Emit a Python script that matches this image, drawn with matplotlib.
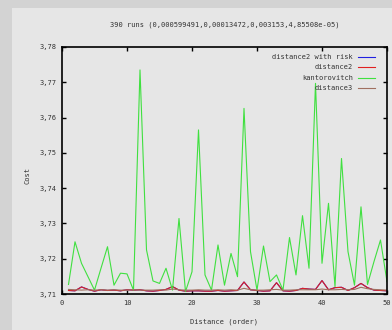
import matplotlib
matplotlib.use("Agg")
import matplotlib.pyplot as plt
from matplotlib.patches import Rectangle
from matplotlib.ticker import FuncFormatter

# ---- data ----
x = list(range(1, 51))
kantorovitch = [3.7127, 3.7248, 3.7187, 3.7149, 3.7111, 3.7173, 3.7234, 3.7125, 3.7159, 3.7157,
                3.7111, 3.7735, 3.7225, 3.7137, 3.7130, 3.7173, 3.7111, 3.7314, 3.7107, 3.7163,
                3.7565, 3.7154, 3.7111, 3.7239, 3.7125, 3.7215, 3.7149, 3.7626, 3.7220, 3.7111,
                3.7236, 3.7135, 3.7154, 3.7111, 3.7260, 3.7154, 3.7322, 3.7173, 3.7697, 3.7187,
                3.7357, 3.7121, 3.7484, 3.7220, 3.7125, 3.7347, 3.7127, 3.7192, 3.7253, 3.7135]
distance2 = [3.7110, 3.7109, 3.7120, 3.7113, 3.7108, 3.7112, 3.7110, 3.7111, 3.7109, 3.7112,
             3.7111, 3.7112, 3.7109, 3.7108, 3.7110, 3.7113, 3.7121, 3.7111, 3.7108, 3.7109,
             3.7109, 3.7108, 3.7108, 3.7110, 3.7108, 3.7109, 3.7110, 3.7134, 3.7112, 3.7110,
             3.7108, 3.7109, 3.7132, 3.7109, 3.7108, 3.7110, 3.7116, 3.7114, 3.7113, 3.7138,
             3.7112, 3.7118, 3.7119, 3.7110, 3.7118, 3.7130, 3.7118, 3.7111, 3.7110, 3.7109]
distance2_risk = list(distance2)
distance3 = [3.7113, 3.7112, 3.7111, 3.7112, 3.7111, 3.7112, 3.7111, 3.7112, 3.7111, 3.7111,
             3.7112, 3.7111, 3.7111, 3.7111, 3.7112, 3.7111, 3.7114, 3.7112, 3.7111, 3.7111,
             3.7112, 3.7111, 3.7111, 3.7112, 3.7111, 3.7112, 3.7111, 3.7116, 3.7112, 3.7111,
             3.7111, 3.7112, 3.7113, 3.7111, 3.7111, 3.7112, 3.7112, 3.7112, 3.7112, 3.7114,
             3.7112, 3.7112, 3.7113, 3.7112, 3.7113, 3.7119, 3.7115, 3.7113, 3.7112, 3.7111]
xticks = [0, 10, 20, 30, 40, 50]
yticks = [3.71, 3.72, 3.73, 3.74, 3.75, 3.76, 3.77, 3.78]
title = "390 runs (0,000599491,0,00013472,0,003153,4,85508e-05)"

W, H = 392, 330
fig = plt.figure(figsize=(W / 100, H / 100), dpi=100)
fig.patch.set_facecolor("#d3d3d3")
fig.patches.append(Rectangle((12 / W, 0), 1, 1 - 8 / H, transform=fig.transFigure,
                             facecolor="#e6e6e6", edgecolor="none", zorder=-10))

ax = fig.add_axes([62 / W, 1 - 294 / H, 325 / W, 247 / H])
ax.set_zorder(5)
ax.set_facecolor("#e6e6e6")

lw = 0.8
ax.plot(x, distance2_risk, color="#2020e0", lw=lw, label="distance2 with risk")
ax.plot(x, distance2, color="#e02020", lw=lw, label="distance2")
ax.plot(x, kantorovitch, color="#40e040", lw=lw, label="kantorovitch")
ax.plot(x, distance3, color="#a07060", lw=lw, label="distance3")

ax.set_xlim(0, 50)
ax.set_ylim(3.71, 3.78)
ax.set_xticks(xticks)
ax.set_yticks(yticks)
ax.yaxis.set_major_formatter(FuncFormatter(lambda v, p: f"{v:.2f}".replace(".", ",")))
ax.xaxis.set_major_formatter(FuncFormatter(lambda v, p: f"{int(round(v))}"))

mono = "DejaVu Sans Mono"
fs = 5
ax.tick_params(direction="in", top=True, right=True, length=3, width=1, color="black",
               labelsize=fs, labelcolor="#333333", pad=4)
for lab in ax.get_xticklabels() + ax.get_yticklabels():
    lab.set_family(mono)
for s in ax.spines.values():
    s.set_linewidth(1.2)
    s.set_color("black")

leg = ax.legend(loc="upper right", frameon=False, prop={"family": mono, "size": fs},
                markerfirst=False, handlelength=2.5, handletextpad=0.7,
                labelspacing=0.65, borderaxespad=0.6, bbox_to_anchor=(0.985, 1.0))
for t in leg.get_texts():
    t.set_color("#333333")

fig.text(224.5 / W, 1 - 25 / H, title, ha="center", va="center", family=mono,
         size=fs, color="#333333", zorder=6)
fig.text(28 / W, 1 - 175 / H, "Cost", ha="center", va="center", rotation=90,
         family=mono, size=fs, color="#333333", zorder=6)
fig.text(224.5 / W, 1 - 322 / H, "Distance (order)", ha="center", va="center",
         family=mono, size=fs, color="#333333", zorder=6)

fig.savefig("out.png", dpi=100, facecolor=fig.get_facecolor())
